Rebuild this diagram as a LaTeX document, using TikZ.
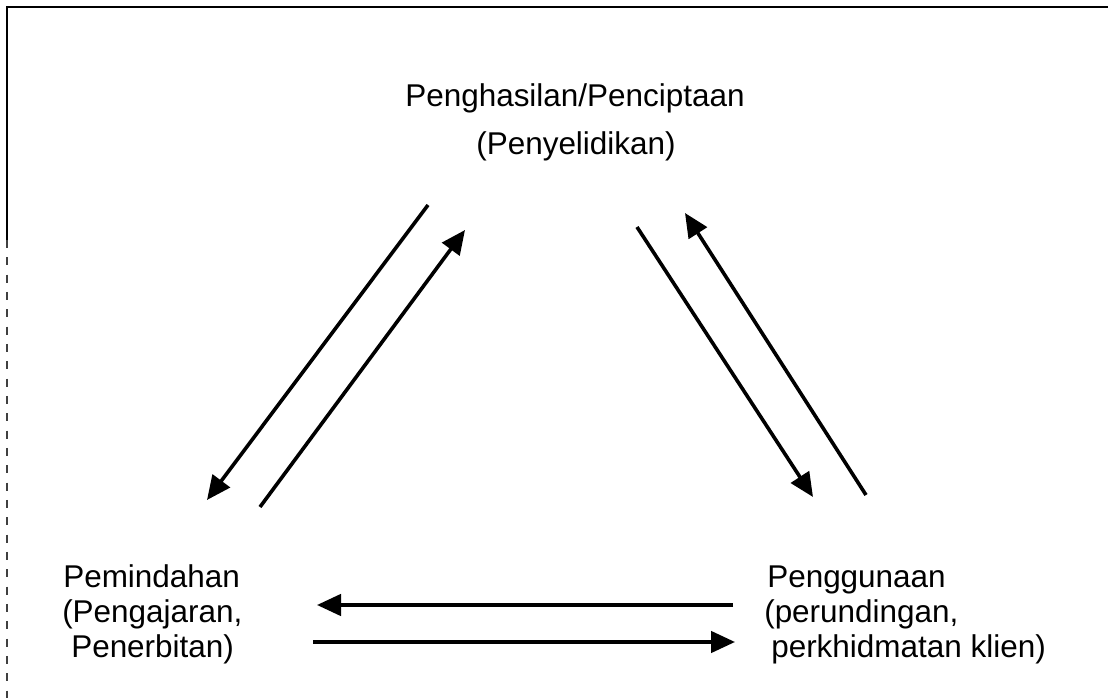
\documentclass[tikz,border=0pt]{standalone}
\usepackage{fontspec}
\setmainfont{Liberation Sans}
\usetikzlibrary{arrows.meta}
\begin{document}
\begin{tikzpicture}[x=0.75pt,y=-0.75pt,
  lbl/.style={inner sep=0pt, anchor=base west, font=\fontsize{23.6}{28}\selectfont},
  lblc/.style={inner sep=0pt, anchor=base, font=\fontsize{23.6}{28}\selectfont},
  flow/.style={line width=2.7pt, -{Triangle[length=18pt,width=16pt]}},
  framebold/.style={line width=2.2pt},
  framefaint/.style={line width=1.6pt, black!75, dash pattern=on 6pt off 7pt}]
\useasboundingbox (0,0) rectangle (1108,698);
% frame
\draw[framebold] (7,240) -- (7,7) -- (1108,7);
\draw[framefaint] (7,240) -- (7,698);
% labels
\node[lblc] (top) at (575,107) {Penghasilan/Penciptaan};
\node[lblc] (topsub) at (576,155) {(Penyelidikan)};
\node[lbl] (left1) at (63,588) {Pemindahan};
\node[lbl] (left2) at (62,623) {(Pengajaran,};
\node[lbl] (left3) at (71,658) {Penerbitan)};
\node[lbl] (right1) at (767,588) {Penggunaan};
\node[lbl] (right2) at (764,623) {(perundingan,};
\node[lbl] (right3) at (771,658) {perkhidmatan klien)};
% arrow end points
\coordinate (a1s) at (428,205);
\coordinate (a1e) at (207,500);
\coordinate (a2s) at (260,507);
\coordinate (a2e) at (465,230);
\coordinate (a3s) at (637,227);
\coordinate (a3e) at (813,497);
\coordinate (a4s) at (866,495);
\coordinate (a4e) at (685,213);
\coordinate (a5s) at (733,605);
\coordinate (a5e) at (317,605);
\coordinate (a6s) at (313,642);
\coordinate (a6e) at (735,642);
% arrows
\draw[flow] (a1s) -- (a1e);
\draw[flow] (a2s) -- (a2e);
\draw[flow] (a3s) -- (a3e);
\draw[flow] (a4s) -- (a4e);
\draw[flow] (a5s) -- (a5e);
\draw[flow] (a6s) -- (a6e);
\end{tikzpicture}
\end{document}
